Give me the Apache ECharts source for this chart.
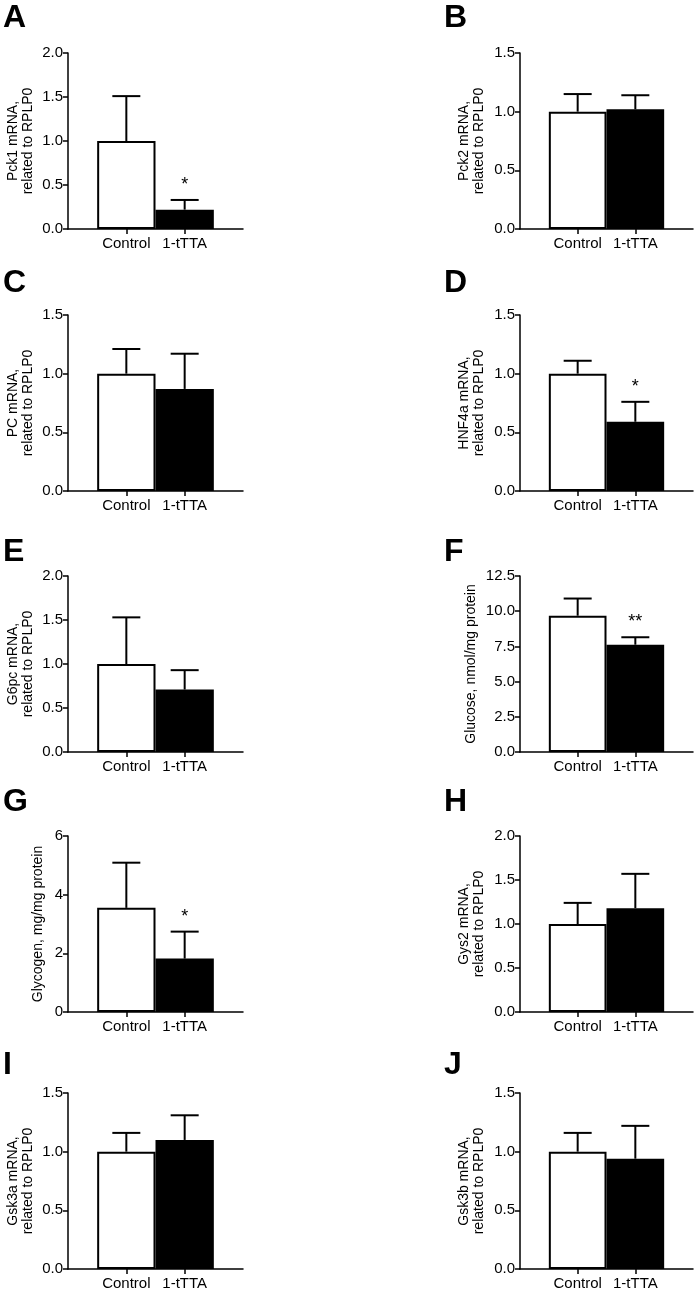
<!DOCTYPE html>
<html>
<head>
<meta charset="utf-8">
<script src="https://cdn.jsdelivr.net/npm/echarts@6/dist/echarts.min.js"></script>
<style>
html,body{margin:0;padding:0;background:#fff;}
#chart{width:700px;height:1293px;}
</style>
</head>
<body>
<div id="chart"></div>
<script>
// ---- data ----
const categories = ['Control', '1-tTTA'];
const panelLetters = ['A','B','C','D','E','F','G','H','I','J'];
const yTitles = [
  'Pck1 mRNA,\nrelated to RPLP0',
  'Pck2 mRNA,\nrelated to RPLP0',
  'PC mRNA,\nrelated to RPLP0',
  'HNF4a mRNA,\nrelated to RPLP0',
  'G6pc mRNA,\nrelated to RPLP0',
  'Glucose, nmol/mg protein',
  'Glycogen, mg/mg protein',
  'Gys2 mRNA,\nrelated to RPLP0',
  'Gsk3a mRNA,\nrelated to RPLP0',
  'Gsk3b mRNA,\nrelated to RPLP0'
];
const yMax      = [2.0, 1.5, 1.5, 1.5, 2.0, 12.5, 6, 2.0, 1.5, 1.5];
const yInterval = [0.5, 0.5, 0.5, 0.5, 0.5, 2.5, 2, 0.5, 0.5, 0.5];
const yDecimals = [1, 1, 1, 1, 1, 1, 0, 1, 1, 1];
const controlMean = [1.00, 1.00, 1.00, 1.00, 1.00, 9.68, 3.55, 1.00, 1.00, 1.00];
const controlSD   = [0.51, 0.15, 0.21, 0.11, 0.53, 1.22, 1.54, 0.24, 0.16, 0.16];
const ttaMean     = [0.22, 1.02, 0.87, 0.59, 0.71, 7.62, 1.82, 1.18, 1.10, 0.94];
const ttaSD       = [0.11, 0.12, 0.30, 0.17, 0.22, 0.53, 0.92, 0.39, 0.21, 0.28];
const ttaSig      = ['*', '', '', '*', '', '**', '*', '', '', ''];

// ---- layout ----
const FONT = "'Liberation Sans', Arial, sans-serif";
const colLeft = [68, 520];
const colWidth = [175, 173];
const rowTop = [53, 315, 576, 836, 1093];
const plotH = 176;
const letterX = [3, 444];
const letterY = [18.5, 283.5, 552, 802, 1065];
const nameGaps = [32, 33, 32, 33, 32, 41, 22, 33, 32, 33];

const chart = echarts.init(document.getElementById('chart'), null, {renderer: 'canvas'});

const grids = [], xAxes = [], yAxes = [], series = [], graphics = [];
const axisCats = [''].concat(categories).concat(['']);

for (let i = 0; i < 10; i++) {
  const col = i % 2, row = Math.floor(i / 2);
  grids.push({left: colLeft[col], top: rowTop[row], width: colWidth[col], height: plotH, containLabel: false});
  xAxes.push({
    type: 'category', gridIndex: i, data: axisCats, boundaryGap: false,
    axisLine: {lineStyle: {color: '#000', width: 1.5}},
    axisTick: {show: true, length: 5, inside: false, lineStyle: {color: '#000', width: 1.5},
      interval: function (idx) { return idx === 1 || idx === 2; }},
    axisLabel: {interval: 0, margin: 7, color: '#000', fontSize: 15, fontFamily: FONT},
    splitLine: {show: false}
  });
  const dec = yDecimals[i];
  yAxes.push({
    type: 'value', gridIndex: i, min: 0, max: yMax[i], interval: yInterval[i],
    name: yTitles[i], nameLocation: 'middle', nameRotate: 90, nameGap: nameGaps[i],
    nameTextStyle: {fontSize: 14, lineHeight: 15, color: '#000', fontFamily: FONT},
    axisLine: {show: true, lineStyle: {color: '#000', width: 1.5}},
    axisTick: {show: true, length: 5, lineStyle: {color: '#000', width: 1.5}},
    axisLabel: {margin: 5, color: '#000', fontSize: 15, fontFamily: FONT,
      formatter: function (v) { return v.toFixed(dec); }},
    splitLine: {show: false}
  });
  series.push({
    type: 'bar', xAxisIndex: i, yAxisIndex: i, barWidth: '100%',
    data: ['-',
      {value: controlMean[i], itemStyle: {color: '#fff', borderColor: '#000', borderWidth: 2}},
      {value: ttaMean[i], itemStyle: {color: '#000', borderColor: '#000', borderWidth: 2}},
      '-'],
    silent: true, animation: false
  });
  const sigs = ['', ttaSig[i]];
  series.push({
    type: 'custom', xAxisIndex: i, yAxisIndex: i, z: 3, animation: false, silent: true,
    data: [[1, controlMean[i], controlSD[i]], [2, ttaMean[i], ttaSD[i]]],
    encode: {x: 0, y: 1},
    renderItem: function (params, api) {
      const x = api.value(0), m = api.value(1), sd = api.value(2);
      const p0 = api.coord([x, m]);
      const p1 = api.coord([x, m + sd]);
      const cap = 14;
      const children = [
        {type: 'line', shape: {x1: p0[0], y1: p0[1], x2: p1[0], y2: p1[1]}, style: {stroke: '#000', lineWidth: 2}},
        {type: 'line', shape: {x1: p1[0] - cap, y1: p1[1], x2: p1[0] + cap, y2: p1[1]}, style: {stroke: '#000', lineWidth: 2}}
      ];
      const s = sigs[params.dataIndex];
      if (s) {
        children.push({type: 'text', x: p1[0], y: p1[1] - 15,
          style: {text: s, font: '18px ' + FONT, fill: '#000', align: 'center', verticalAlign: 'middle'}});
      }
      return {type: 'group', children: children};
    }
  });
  graphics.push({type: 'text', x: letterX[col], y: letterY[row],
    style: {text: panelLetters[i], font: 'bold 32px ' + FONT, fill: '#000', align: 'left', verticalAlign: 'middle'}});
}

chart.setOption({
  animation: false,
  backgroundColor: '#fff',
  grid: grids, xAxis: xAxes, yAxis: yAxes, series: series,
  graphic: graphics
});
</script>
</body>
</html>
